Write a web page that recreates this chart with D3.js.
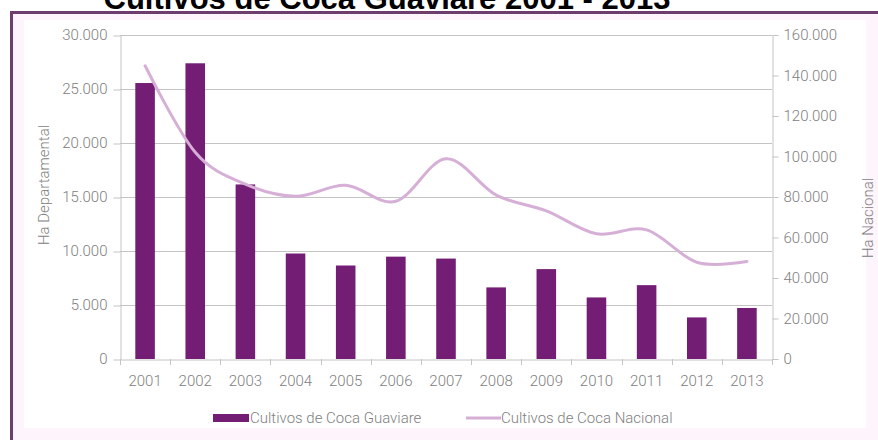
<!DOCTYPE html>
<html>
<head>
<meta charset="utf-8">
<script src="https://cdn.jsdelivr.net/npm/d3@7"></script>
<style>
  html, body { margin: 0; padding: 0; background: #ffffff; }
  svg { display: block; }
  text { font-family: Roboto, "Liberation Sans", sans-serif; }
</style>
</head>
<body>
<svg id="chart" width="878" height="440"></svg>
<script>
// ---- data ----
const years = ["2001","2002","2003","2004","2005","2006","2007","2008","2009","2010","2011","2012","2013"];
const guaviare = [25553, 27381, 16163, 9769, 8658, 9477, 9299, 6629, 8324, 5701, 6839, 3851, 4725];
const nacional = [144807, 102071, 86340, 80350, 85750, 77870, 98899, 80953, 73139, 61812, 63762, 47788, 48189];
const leftTicks = [0, 5000, 10000, 15000, 20000, 25000, 30000];
const rightTicks = [0, 20000, 40000, 60000, 80000, 100000, 120000, 140000, 160000];
const titleText = "Cultivos de Coca Guaviare 2001 - 2013";
const seriesNames = ["Cultivos de Coca Guaviare", "Cultivos de Coca Nacional"];
const axisTitles = ["Ha Departamental", "Ha Nacional"];

// ---- layout ----
const W = 878, H = 440;
const plot = { left: 120, right: 772, top: 35, bottom: 359 };
const barColor = "#731e74";
const lineColor = "#d6afd6";
const gridColor = "#c4c4c4";
const textColor = "#808080";

const loc = d3.formatLocale({ decimal: ",", thousands: ".", grouping: [3], currency: ["", ""] });
const fmt = loc.format(",d");

const svg = d3.select("#chart");

// frame
svg.append("rect").attr("x", 0).attr("y", 0).attr("width", W).attr("height", H).attr("fill", "#ffffff");
svg.append("rect").attr("x", 13).attr("y", 14).attr("width", W - 13).attr("height", H - 14).attr("fill", "#fdf4fc");
svg.append("rect").attr("x", 24).attr("y", 20).attr("width", 842).attr("height", 408).attr("fill", "#ffffff");
svg.append("line").attr("x1", 11.5).attr("x2", 11.5).attr("y1", 11).attr("y2", H)
  .attr("stroke", "#6d3d6d").attr("stroke-width", 3);
svg.append("line").attr("x1", 10).attr("x2", W).attr("y1", 12.5).attr("y2", 12.5)
  .attr("stroke", "#6d3d6d").attr("stroke-width", 3);

// title (cut at top as in reference)
svg.append("text").attr("x", 387).attr("y", 9).attr("text-anchor", "middle")
  .style("font-family", "'Liberation Sans', Arial, sans-serif")
  .style("font-weight", "bold").style("font-size", "31px").attr("fill", "#000")
  .text(titleText);

// scales
const x = d3.scaleBand().domain(years).range([plot.left, plot.right]).paddingInner(0.61).paddingOuter(0.305);
const xc = d3.scaleBand().domain(years).range([plot.left, plot.right]);
const yL = d3.scaleLinear().domain([0, 30000]).range([plot.bottom, plot.top]);
const yR = d3.scaleLinear().domain([0, 160000]).range([plot.bottom, plot.top]);

// gridlines
svg.append("g").selectAll("line").data(leftTicks.filter(d => d > 0)).join("line")
  .attr("x1", plot.left).attr("x2", plot.right)
  .attr("y1", d => Math.round(yL(d)) + 0.5).attr("y2", d => Math.round(yL(d)) + 0.5)
  .attr("stroke", gridColor).attr("stroke-width", 1);

// bars
svg.append("g").selectAll("rect").data(years).join("rect")
  .attr("x", (d) => x(d))
  .attr("width", x.bandwidth())
  .attr("y", (d, i) => yL(guaviare[i]))
  .attr("height", (d, i) => plot.bottom - yL(guaviare[i]))
  .attr("fill", barColor);

// line
const line = d3.line()
  .x((d, i) => xc(years[i]) + xc.bandwidth() / 2)
  .y(d => yR(d))
  .curve(d3.curveCardinal.tension(0));
svg.append("path").datum(nacional).attr("d", line)
  .attr("fill", "none").attr("stroke", lineColor).attr("stroke-width", 3)
  .attr("stroke-linecap", "round");

// axes
function styleAxis(g) {
  g.selectAll(".domain").attr("stroke", gridColor);
  g.selectAll(".tick line").attr("stroke", gridColor);
  g.selectAll("text").attr("fill", textColor)
    .style("font-family", "Roboto, sans-serif").style("font-size", "15px").style("font-weight", "300");
}
const axL = svg.append("g").attr("transform", `translate(${plot.left + 0.5},0)`)
  .call(d3.axisLeft(yL).tickValues(leftTicks).tickFormat(fmt).tickSize(7).tickPadding(6).tickSizeOuter(0));
styleAxis(axL);
axL.selectAll(".tick line").attr("transform", "translate(0,0.5)");
const axR = svg.append("g").attr("transform", `translate(${plot.right + 0.5},0)`)
  .call(d3.axisRight(yR).tickValues(rightTicks).tickFormat(fmt).tickSize(6).tickPadding(5).tickSizeOuter(0));
styleAxis(axR);

const axB = svg.append("g").attr("transform", `translate(0,${plot.bottom + 0.5})`)
  .call(d3.axisBottom(xc).tickSize(0).tickPadding(16).tickSizeOuter(0));
styleAxis(axB);
// boundary ticks on the category axis
svg.append("g").selectAll("line").data(d3.range(years.length + 1)).join("line")
  .attr("x1", i => Math.round(plot.left + i * xc.step()) + 0.5)
  .attr("x2", i => Math.round(plot.left + i * xc.step()) + 0.5)
  .attr("y1", plot.bottom).attr("y2", plot.bottom + 6)
  .attr("stroke", gridColor);

// axis titles
svg.append("text").attr("transform", "translate(49,185) rotate(-90)").attr("text-anchor", "middle")
  .attr("fill", textColor).style("font-size", "15px").style("font-weight", "300").text(axisTitles[0]);
svg.append("text").attr("transform", "translate(873,218) rotate(-90)").attr("text-anchor", "middle")
  .attr("fill", textColor).style("font-size", "15px").style("font-weight", "300").text(axisTitles[1]);

// legend
const lg = svg.append("g");
lg.append("rect").attr("x", 213).attr("y", 414).attr("width", 36).attr("height", 8).attr("fill", barColor);
lg.append("text").attr("x", 250).attr("y", 423).attr("fill", textColor)
  .style("font-size", "15px").style("font-weight", "300").text(seriesNames[0]);
lg.append("line").attr("x1", 466).attr("x2", 501).attr("y1", 418).attr("y2", 418)
  .attr("stroke", lineColor).attr("stroke-width", 3);
lg.append("text").attr("x", 501).attr("y", 423).attr("fill", textColor)
  .style("font-size", "15px").style("font-weight", "300").text(seriesNames[1]);
</script>
</body>
</html>
